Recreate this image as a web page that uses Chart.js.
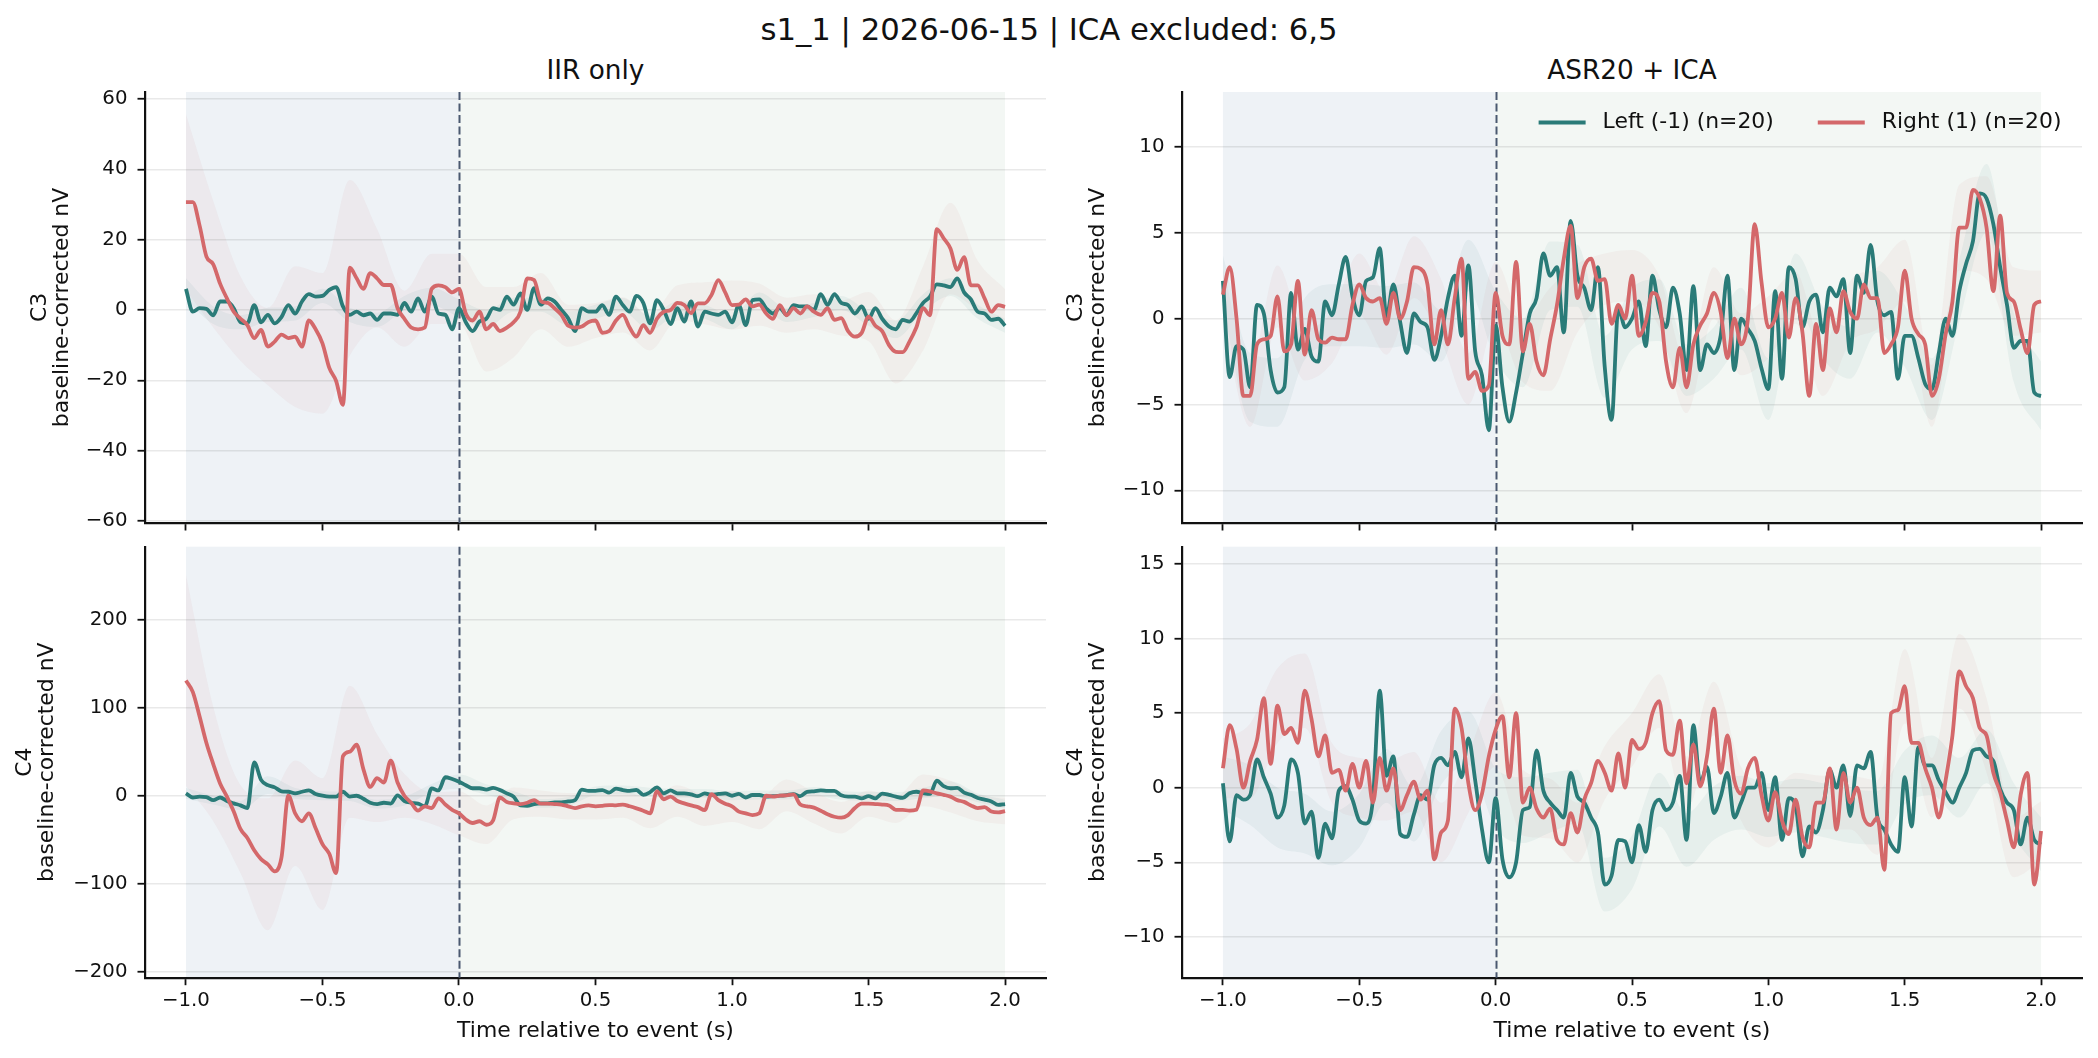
<!DOCTYPE html>
<html>
<head>
<meta charset="utf-8">
<title>s1_1 | 2026-06-15 | ICA excluded: 6,5</title>
<script src="https://cdn.jsdelivr.net/npm/chart.js@4.4.1/dist/chart.umd.min.js"></script>
<style>
  html, body { margin: 0; padding: 0; background: #fff; }
  body { position: relative; width: 2098px; height: 1058px; overflow: hidden; font-family: "DejaVu Sans", sans-serif; color: #111; }
  canvas { position: absolute; }
  .title { position: absolute; white-space: nowrap; transform: translateX(-50%); line-height: 1; }
</style>
</head>
<body>
<div class="title" style="left:1049px; top:15px; font-size:30.7px;">s1_1 | 2026-06-15 | ICA excluded: 6,5</div>
<div class="title" style="left:595.5px; top:56.5px; font-size:26.3px;">IIR only</div>
<div class="title" style="left:1632px; top:56.5px; font-size:26.3px;">ASR20 + ICA</div>

<canvas id="c3Iir" width="1050" height="475" style="left:0; top:60px;"></canvas>
<canvas id="c3Asr" width="1048" height="475" style="left:1050px; top:60px;"></canvas>
<canvas id="c4Iir" width="1050" height="523" style="left:0; top:535px;"></canvas>
<canvas id="c4Asr" width="1048" height="523" style="left:1050px; top:535px;"></canvas>

<script>
// Sampling grid: epochs from -1.0 s to 2.0 s, one value every 25 ms
const tStart = -1.0;
const tStep = 0.025;
const semEvery = 4; // SEM band is read every 0.1 s

// Windows and marker
const baselineWindow = [-1, 0];
const responseWindow = [0, 2];
const eventTime = 0;

// Axis ticks and limits
const xTicks = [-1, -0.5, 0, 0.5, 1, 1.5, 2];
const xLimits = [-1.15, 2.15];
const c3IirTicks = [-60, -40, -20, 0, 20, 40, 60];
const c3IirLimits = [-60.6, 62.0];
const c4IirTicks = [-200, -100, 0, 100, 200];
const c4IirLimits = [-206.8, 283.0];
const c3AsrTicks = [-10, -5, 0, 5, 10];
const c3AsrLimits = [-11.9, 13.2];
const c4AsrTicks = [-10, -5, 0, 5, 10, 15];
const c4AsrLimits = [-12.73, 16.15];

const legendLabels = ['Left (-1) (n=20)', 'Right (1) (n=20)'];

// C3, IIR only
const c3IirLeft = [
  6.0, -0.5, 0.5, 0.3, -1.5, 2.4, 2.4, 0.5, -3.5, -3.8,
  1.4, -3.5, -1.4, -3.8, -2.0, 1.4, -1.0, 2.4, 4.5, 3.8,
  4.0, 5.7, 6.5, 1.0, -1.4, -0.5, -1.5, -1.0, -2.8, -1.0,
  -1.0, -1.4, 2.0, -0.5, 3.3, -0.5, 3.8, -1.0, -1.4, -5.5,
  0.5, -3.5, -6.0, -3.3, -2.5, 0.5, 0.0, 3.8, 1.5, 4.7,
  0.0, 6.2, 1.5, 3.3, 2.4, 0.0, -2.4, -6.0, 0.5, -0.5,
  -0.5, 1.4, -1.4, 3.8, 1.4, -0.5, 4.0, 2.0, -3.8, 2.8,
  0.0, -4.0, 0.5, -3.3, 2.4, -4.7, -0.5, -1.0, -1.4, -0.5,
  -3.5, 1.4, -4.3, 2.8, 3.0, 0.5, -1.0, 0.5, -1.4, 1.4,
  1.0, 1.0, 0.0, 4.5, 1.4, 4.5, 2.0, 1.4, -1.0, 1.0,
  -2.5, 0.5, -2.5, -4.7, -5.5, -2.8, -3.3, -1.0, 2.0, 3.8,
  7.3, 7.0, 6.5, 9.0, 5.0, 3.0, -0.5, -1.0, -2.8, -2.5,
  -4.5
];
const c3IirRight = [
  30.7, 30.7, 24.0, 15.2, 13.0, 7.5, 3.3, -0.5, -2.5, -4.3,
  -8.0, -5.7, -10.4, -9.0, -7.0, -8.0, -7.6, -10.4, -3.0, -5.5,
  -9.5, -16.5, -20.2, -27.0, 12.0, 9.0, 6.0, 10.5, 9.0, 7.1,
  7.1, 0.5, -2.5, -5.0, -5.5, -5.0, 6.0, 7.0, 6.5, 5.0,
  6.0, -1.0, -3.0, -0.5, -5.5, -4.0, -6.0, -5.0, -3.5, -0.5,
  9.0, 8.5, 2.5, 2.0, 0.5, -1.4, -4.5, -5.0, -4.7, -3.4,
  -3.0, -6.5, -6.0, -3.0, -1.4, -5.0, -7.6, -4.3, -6.5, -2.5,
  -0.5, 0.0, 2.0, 1.4, -0.9, 1.9, 1.9, 4.3, 8.5, 5.0,
  1.4, 1.5, 3.0, 1.0, 1.5, -1.0, -2.5, 1.4, -1.5, 0.5,
  -1.0, 1.0, -0.5, -1.4, 0.5, -2.8, -2.3, -6.0, -7.6, -6.5,
  -1.9, -4.5, -6.0, -10.0, -11.9, -12.0, -9.0, -5.0, 0.5, -1.5,
  23.0, 20.4, 17.5, 11.4, 15.0, 7.0, 7.0, 3.3, -0.5, 1.4,
  0.9
];
const c3IirLeftSem = [3, 2.5, 2, 2, 2, 2, 2, 2, 2, 2.5, 2.5, 2.5, 2, 2, 2, 2, 2, 2, 2, 2, 2, 2, 2, 2, 2, 2, 2.5, 2.5, 2.5, 2, 2];
const c3IirRightSem = [25, 18, 12, 11, 20, 20, 25, 14, 8, 10, 10, 12, 10, 8, 6, 5, 5, 5, 5, 6, 7, 6, 5, 5, 5, 7, 9, 12, 13, 7, 5];

// C4, IIR only
const c4IirLeft = [
  2.7, -2.0, -1.0, -1.5, -5.0, -2.0, -6.0, -8.7, -11.0, -14.0,
  38.0, 18.0, 12.0, 9.5, 5.0, 4.5, 2.7, 4.5, 6.0, 2.0,
  0.0, -1.0, -1.0, 4.5, -1.0, 0.0, -3.5, -8.0, -9.5, -8.0,
  -9.0, 0.5, -6.0, -8.0, -9.0, -12.0, 8.3, 6.0, 21.0, 19.0,
  16.0, 12.0, 8.5, 8.5, 7.0, 9.0, 6.5, 2.7, -1.0, -11.0,
  -11.5, -9.5, -8.7, -8.7, -7.5, -7.5, -6.5, -5.0, 7.0, 5.5,
  5.5, 6.4, 3.5, 8.0, 6.5, 5.5, 6.5, 1.0, 4.0, 9.5,
  2.7, 6.0, 2.7, 2.7, 1.5, -0.5, 2.7, 1.0, 2.0, 2.7,
  0.0, 2.0, -2.0, 0.8, 0.8, -1.0, -0.5, 0.0, 0.8, 1.8,
  -0.5, 4.5, 5.0, 6.0, 5.5, 5.5, 0.5, -1.0, -1.0, -3.0,
  -0.5, -3.0, 2.5, 1.0, -1.0, -2.5, 2.7, 4.5, 3.0, 2.0,
  17.0, 11.0, 8.5, 9.0, 3.5, 1.0, -2.5, -4.5, -6.5, -10.5,
  -9.5
];
const c4IirRight = [
  131, 118, 90, 60, 36, 14, -1, -18, -38, -48,
  -62, -72, -78, -86, -70, 0, -20, -29, -20, -37,
  -55, -66, -88, 45, 50, 58, 30, 10, 20, 15,
  40, 15, 0, -8, -17, -12, -14, -3, -10, -16,
  -20, -27, -31, -29, -33, -28, -2, -7, -8.7, -9.5,
  -8, -5, -9, -9, -9.5, -10, -12, -14, -12, -11,
  -12, -11.5, -10.6, -11, -10, -12, -14.4, -17, -20, 5,
  -4, -1, -6, -8.7, -11, -13, -16.3, 1.9, -5, -9,
  -12, -18, -20, -22, -20, 0, -1, 0, 0.5, 1.5,
  -10, -12, -13.5, -17, -21, -23.9, -25, -22, -14, -9,
  -9, -9.5, -10, -11, -16, -16, -17, -16, 6, 5,
  2.7, 1, -1, -5, -7, -11, -14, -13, -18, -19,
  -17.4
];
const c4IirLeftSem = [6, 5, 5, 10, 6, 5, 5, 5, 5, 5, 8, 6, 6, 5, 5, 5, 5, 5, 5, 5, 5, 5, 5, 5, 5, 5, 5, 6, 8, 5, 5];
const c4IirRightSem = [120, 65, 50, 75, 60, 75, 75, 50, 25, 18, 25, 22, 18, 15, 15, 15, 15, 17, 18, 18, 18, 18, 18, 18, 18, 15, 15, 18, 18, 15, 15];

// C3, ASR20 + ICA
const c3AsrLeft = [
  2.2, -3.4, -1.6, -1.8, -4.0, 0.8, 0.3, -3.0, -4.3, -4.0,
  1.5, -1.8, -0.6, -2.2, -2.5, 1.0, 0.2, 2.0, 3.6, 1.3,
  0.2, 2.2, 2.4, 4.1, 0.1, 2.0, -0.2, -2.0, 0.3, -0.2,
  -0.5, -2.4, -1.0, 1.2, 2.5, -1.0, 3.1, -1.9, -3.3, -6.5,
  -0.4, -4.0, -6.0, -4.3, -2.0, 0.3, 1.2, 3.8, 2.5, 3.0,
  -0.8, 5.7, 2.5, 1.8, 0.5, 3.0, -2.8, -5.9, 0.6, -0.5,
  0.0, 1.0, -1.6, 2.5, 0.5, -0.5, 1.8, 0.3, -3.0, 1.9,
  -3.0, -1.5, -2.0, -1.0, 2.5, -3.0, 0.0, -0.6, -1.3, -2.9,
  -4.1, 1.6, -3.5, 3.0, 2.3, -0.5, 1.0, 1.4, -0.8, 1.8,
  1.3, 2.3, -2.0, 2.5, 1.5, 4.3, 1.0, 0.2, 0.4, -3.5,
  -1.0, -1.0, -2.3, -3.8, -4.1, -2.0, 0.0, -1.0, 1.6, 3.2,
  4.5, 7.3, 7.0, 5.5, 3.0, 0.8, -1.7, -1.3, -1.3, -4.3,
  -4.5
];
const c3AsrRight = [
  1.4, 3.0, 0.0, -4.5, -4.5, -1.5, -1.2, -1.0, 1.3, -1.9,
  -1.5, 2.2, -2.1, 0.5, -1.2, -1.4, -1.1, -1.2, -1.2, 0.8,
  2.0, 1.2, 1.0, 1.2, -0.3, 1.5, 0.0, 1.0, 3.0, 2.9,
  2.0, -1.5, 0.5, -1.5, 1.2, 3.5, -3.5, -3.1, -4.2, -3.9,
  1.5, -1.0, -1.5, 3.3, -1.9, -0.3, -2.5, -3.3, -1.2, 0.8,
  3.5, 5.4, 1.2, 3.0, 3.5, 2.2, 2.3, -0.3, 0.8, 0.0,
  2.5, -1.0, -0.2, 1.5, 1.0, -2.5, -4.0, -1.7, -4.0, -1.5,
  -0.4, 0.3, 1.5, 0.4, -2.3, 0.0, -1.5, 0.0, 5.5, 2.1,
  -0.5, 0.0, 1.5, -1.1, 1.2, -0.8, -4.5, -0.3, -3.0, 0.6,
  -0.8, 1.6, 0.4, 0.0, 2.0, 1.2, 1.2, -2.0, -1.5, -0.5,
  2.8, 0.0, -0.9, -1.5, -4.5, -3.5, -0.9, 1.0, 5.3, 5.3,
  7.5, 7.0, 5.3, 1.6, 6.0, 1.5, 1.0, -0.6, -2.0, 0.8,
  1.0
];
const c3AsrLeftSem = [1.5, 2, 2, 1.8, 1.8, 1.8, 1.8, 1.8, 1.5, 1.5, 2, 2, 2, 1.8, 1.8, 1.8, 1.8, 1.5, 1.5, 1.8, 1.8, 1.5, 1.5, 1.5, 1.8, 1.8, 1.8, 1.8, 2, 2, 2];
const c3AsrRightSem = [1.5, 1.8, 1.8, 1.5, 1.5, 1.8, 1.8, 1.8, 1.8, 1.5, 1.8, 1.8, 3, 2, 1.5, 1.5, 1.5, 1.5, 1.5, 1.8, 1.8, 1.5, 1.5, 1.8, 1.8, 1.8, 1.8, 2.5, 3, 2, 1.8];

// C4, ASR20 + ICA
const c4AsrLeft = [
  0.3, -3.6, -0.5, -0.8, -0.5, 1.9, 0.7, -0.4, -2.0, -1.2,
  1.9, 1.0, -2.4, -1.6, -4.7, -2.4, -3.4, -0.2, 0.1, -0.8,
  -2.2, -2.4, -0.8, 6.5, 0.8, 2.1, -3.1, -3.3, -1.8, -0.5,
  -0.8, 1.5, 2.0, 1.5, 2.4, 0.7, 3.3, 0.5, -2.8, -5.0,
  -0.7, -4.8, -6.0, -5.0, -1.5, -1.3, 2.5, -0.2, -1.0, -1.5,
  -2.0, 1.0, -0.6, -1.0, -2.0, -3.0, -6.5, -5.9, -3.5, -3.6,
  -5.0, -2.5, -4.3, -1.5, -0.8, -1.5, -1.0, 0.8, -3.5, 4.2,
  0.3, 1.4, -1.7, -0.6, 1.0, -2.0, -1.0, 0.0, 0.0, 1.0,
  -1.5, 0.7, -3.5, -0.7, -1.2, -4.6, -2.6, -3.0, -1.5, 1.2,
  0.0, 1.5, -1.9, 1.5, 1.3, 2.4, -2.0, -2.8, -3.8, -4.3,
  0.7, -2.6, 2.7, 1.5, 1.5, 0.5, -0.3, -1.0, 0.0, 1.0,
  2.5, 2.6, 2.1, 1.8, -0.1, -1.0, -1.5, -3.8, -2.0, -3.5,
  -3.8
];
const c4AsrRight = [
  1.3, 4.2, 2.6, 0.0, 1.8, 3.2, 6.0, 1.6, 5.5, 3.6,
  4.0, 3.0, 6.5, 4.6, 2.1, 3.5, 1.0, 1.2, -0.2, 1.6,
  0.0, 1.8, -1.0, 2.0, -0.2, 1.3, -1.5, -0.5, 0.4, -0.8,
  -0.2, -4.8, -3.0, -2.2, 5.3, 4.0, 0.3, -1.5, -0.4, 2.1,
  3.9, 4.8, 0.7, 5.0, -1.0, 0.0, -1.4, -2.0, -1.4, -3.5,
  -3.8, -1.7, -3.0, -0.8, 0.3, 1.8, 1.0, -0.2, 2.3, 0.0,
  3.2, 2.6, 3.0, 5.0, 5.8, 2.5, 2.2, 4.5, 0.3, 2.9,
  0.1, 2.1, 5.3, 1.0, 3.5, 0.5, -0.4, 1.3, 2.0, -0.5,
  -2.2, -0.3, -2.2, -3.1, -0.8, -3.3, -4.0, -1.0, -1.0, 1.3,
  -2.8, 1.0, -1.0, 0.0, -2.0, -2.5, -2.0, -5.5, 5.0, 5.2,
  6.8, 3.0, 3.0, 1.3, 0.0, -2.0, 0.5, 3.5, 7.8, 6.8,
  6.0, 4.0, 3.5, 1.0, -0.3, -2.2, -4.0, -0.5, 1.0, -6.5,
  -2.9
];
const c4AsrLeftSem = [1.8, 2, 2, 2, 1.8, 1.8, 1.8, 1.8, 1.8, 1.8, 2, 2.2, 2, 1.8, 1.8, 1.8, 1.8, 1.8, 1.8, 1.8, 1.8, 1.8, 1.8, 1.8, 1.8, 1.8, 2, 2, 1.8, 1.8, 1.8];
const c4AsrRightSem = [2, 2.5, 2.5, 2.5, 2, 2, 2, 2, 2, 2, 2.5, 2.2, 2, 2, 1.8, 1.8, 1.8, 1.8, 1.8, 1.8, 1.8, 1.8, 1.8, 1.8, 2.5, 2.5, 2, 2.5, 2.5, 2, 2];

// Colours
const TEAL = '#2a7b78';
const RED = '#d4686a';
const TEAL_BAND = 'rgba(42, 123, 120, 0.06)';
const RED_BAND = 'rgba(212, 104, 106, 0.06)';
const PRE_FILL = '#eef2f6';
const POST_FILL = '#f3f7f4';
const EVENT_LINE = '#4a5870';
const INK = '#111111';
const LINE_W = 3.8;

Chart.defaults.font.family = '"DejaVu Sans", sans-serif';
Chart.defaults.color = INK;

function sampleTime(i) {
  return +(tStart + i * tStep).toFixed(3);
}

function toPoints(values) {
  return values.map((v, i) => ({ x: sampleTime(i), y: v }));
}

// mean +/- sem, taken on the coarse 0.1 s grid
function bandPoints(values, sem, sign) {
  return sem.map((s, k) => ({ x: sampleTime(k * semEvery), y: values[k * semEvery] + sign * s }));
}

function fmtTick(v, digits) {
  const s = Math.abs(v).toFixed(digits);
  return v < 0 ? '\u2212' + s : s;
}

// Shaded baseline / response windows and the dashed event marker
const eventShading = {
  id: 'eventShading',
  beforeDraw(chart) {
    const { ctx, chartArea: a, scales: { x } } = chart;
    ctx.save();
    [[baselineWindow, PRE_FILL], [responseWindow, POST_FILL]].forEach(([w, c]) => {
      const x0 = x.getPixelForValue(w[0]);
      const x1 = x.getPixelForValue(w[1]);
      ctx.fillStyle = c;
      ctx.fillRect(x0, a.top, x1 - x0, a.bottom - a.top);
    });
    ctx.restore();
  },
  beforeDatasetsDraw(chart) {
    const { ctx, chartArea: a, scales: { x } } = chart;
    const px = Math.round(x.getPixelForValue(eventTime)) + 0.5;
    ctx.save();
    ctx.strokeStyle = EVENT_LINE;
    ctx.lineWidth = 2;
    ctx.setLineDash([8, 3.5]);
    ctx.beginPath();
    ctx.moveTo(px, a.top);
    ctx.lineTo(px, a.bottom);
    ctx.stroke();
    ctx.restore();
  }
};

// Frameless two-column legend in the upper right corner
const cornerLegend = {
  id: 'cornerLegend',
  afterDatasetsDraw(chart, args, opts) {
    if (!opts.show) return;
    const { ctx, chartArea } = chart;
    const handle = 47, handleGap = 17, colGap = 44;
    const colors = [TEAL, RED];
    ctx.save();
    ctx.font = '21.9px "DejaVu Sans"';
    ctx.textBaseline = 'middle';
    const widths = legendLabels.map(t => ctx.measureText(t).width);
    const total = widths.reduce((a, w) => a + w, 0) + legendLabels.length * (handle + handleGap) + (legendLabels.length - 1) * colGap;
    let x = chartArea.right - 20.5 - total;
    const y = chartArea.top + 30.5;
    legendLabels.forEach((label, i) => {
      ctx.strokeStyle = colors[i];
      ctx.lineWidth = LINE_W;
      ctx.beginPath();
      ctx.moveTo(x, y);
      ctx.lineTo(x + handle, y);
      ctx.stroke();
      x += handle + handleGap;
      ctx.fillStyle = INK;
      ctx.fillText(label, x, y);
      x += widths[i] + colGap;
    });
    ctx.restore();
  }
};

function lineDataset(values, color) {
  return {
    data: toPoints(values),
    borderColor: color,
    borderWidth: LINE_W,
    pointRadius: 0,
    fill: false,
    cubicInterpolationMode: 'monotone',
    borderJoinStyle: 'round'
  };
}

function bandDataset(values, sem, sign, color) {
  return {
    data: bandPoints(values, sem, sign),
    borderColor: 'rgba(0,0,0,0)',
    borderWidth: 0,
    pointRadius: 0,
    fill: sign > 0 ? '+1' : false,
    backgroundColor: color,
    cubicInterpolationMode: 'monotone'
  };
}

function makePanel(p) {
  const tickFont = { size: 19.75 };
  const labelFont = { size: 21.9, lineHeight: 1 };
  // keep label overflow from moving the plot area
  const noOverflow = s => { s.paddingTop = 0; s.paddingBottom = 0; s.paddingLeft = 0; s.paddingRight = 0; };
  return new Chart(document.getElementById(p.id), {
    type: 'line',
    data: {
      datasets: [
        lineDataset(p.right, RED),
        lineDataset(p.left, TEAL),
        bandDataset(p.left, p.leftSem, 1, TEAL_BAND),
        bandDataset(p.left, p.leftSem, -1, TEAL_BAND),
        bandDataset(p.right, p.rightSem, 1, RED_BAND),
        bandDataset(p.right, p.rightSem, -1, RED_BAND)
      ]
    },
    options: {
      responsive: false,
      animation: false,
      devicePixelRatio: 1,
      events: [],
      layout: { padding: { left: 0, right: p.padRight, top: p.padTop, bottom: 0 } },
      plugins: {
        legend: { display: false },
        tooltip: { enabled: false },
        cornerLegend: { show: !!p.legend }
      },
      scales: {
        x: {
          type: 'linear',
          min: xLimits[0],
          max: xLimits[1],
          afterBuildTicks: s => { s.ticks = xTicks.map(v => ({ value: v })); },
          afterFit: s => { s.height = p.xAxisHeight; noOverflow(s); },
          grid: { drawOnChartArea: false, drawTicks: true, tickLength: 7.5, tickColor: INK, tickWidth: 1.8 },
          border: { display: true, color: INK, width: 2.2 },
          ticks: { display: p.showX, font: tickFont, color: INK, padding: 4, maxRotation: 0, autoSkip: false, callback: v => fmtTick(v, 1) },
          title: { display: p.showX, text: 'Time relative to event (s)', font: labelFont, color: INK, padding: { top: 0, bottom: 15.5 } }
        },
        y: {
          type: 'linear',
          min: p.limits[0],
          max: p.limits[1],
          afterBuildTicks: s => { s.ticks = p.ticks.map(v => ({ value: v })); },
          afterFit: s => { s.width = p.yAxisWidth; noOverflow(s); },
          grid: { color: 'rgba(0,0,0,0.085)', lineWidth: 1.5, drawTicks: true, tickLength: 7.5, tickColor: INK, tickWidth: 1.8 },
          border: { display: true, color: INK, width: 2.2 },
          ticks: { font: tickFont, color: INK, padding: 10, autoSkip: false, callback: v => fmtTick(v, 0) },
          title: { display: true, text: [p.channel, 'baseline-corrected nV'], font: labelFont, color: INK, padding: { top: p.titlePad, bottom: 0 } }
        }
      }
    },
    plugins: [eventShading, cornerLegend]
  });
}

const panels = [
  { id: 'c3Iir', channel: 'C3', left: c3IirLeft, right: c3IirRight, leftSem: c3IirLeftSem, rightSem: c3IirRightSem,
    ticks: c3IirTicks, limits: c3IirLimits, showX: false, legend: false,
    yAxisWidth: 145, xAxisHeight: 12, padTop: 32, padRight: 4, titlePad: 29 },
  { id: 'c3Asr', channel: 'C3', left: c3AsrLeft, right: c3AsrRight, leftSem: c3AsrLeftSem, rightSem: c3AsrRightSem,
    ticks: c3AsrTicks, limits: c3AsrLimits, showX: false, legend: true,
    yAxisWidth: 132, xAxisHeight: 12, padTop: 32, padRight: 16, titlePad: 15 },
  { id: 'c4Iir', channel: 'C4', left: c4IirLeft, right: c4IirRight, leftSem: c4IirLeftSem, rightSem: c4IirRightSem,
    ticks: c4IirTicks, limits: c4IirLimits, showX: true, legend: false,
    yAxisWidth: 145, xAxisHeight: 80.3, padTop: 11.7, padRight: 4, titlePad: 14.5 },
  { id: 'c4Asr', channel: 'C4', left: c4AsrLeft, right: c4AsrRight, leftSem: c4AsrLeftSem, rightSem: c4AsrRightSem,
    ticks: c4AsrTicks, limits: c4AsrLimits, showX: true, legend: false,
    yAxisWidth: 132, xAxisHeight: 80.3, padTop: 11.7, padRight: 16, titlePad: 15 }
];

panels.forEach(makePanel);
</script>
</body>
</html>
